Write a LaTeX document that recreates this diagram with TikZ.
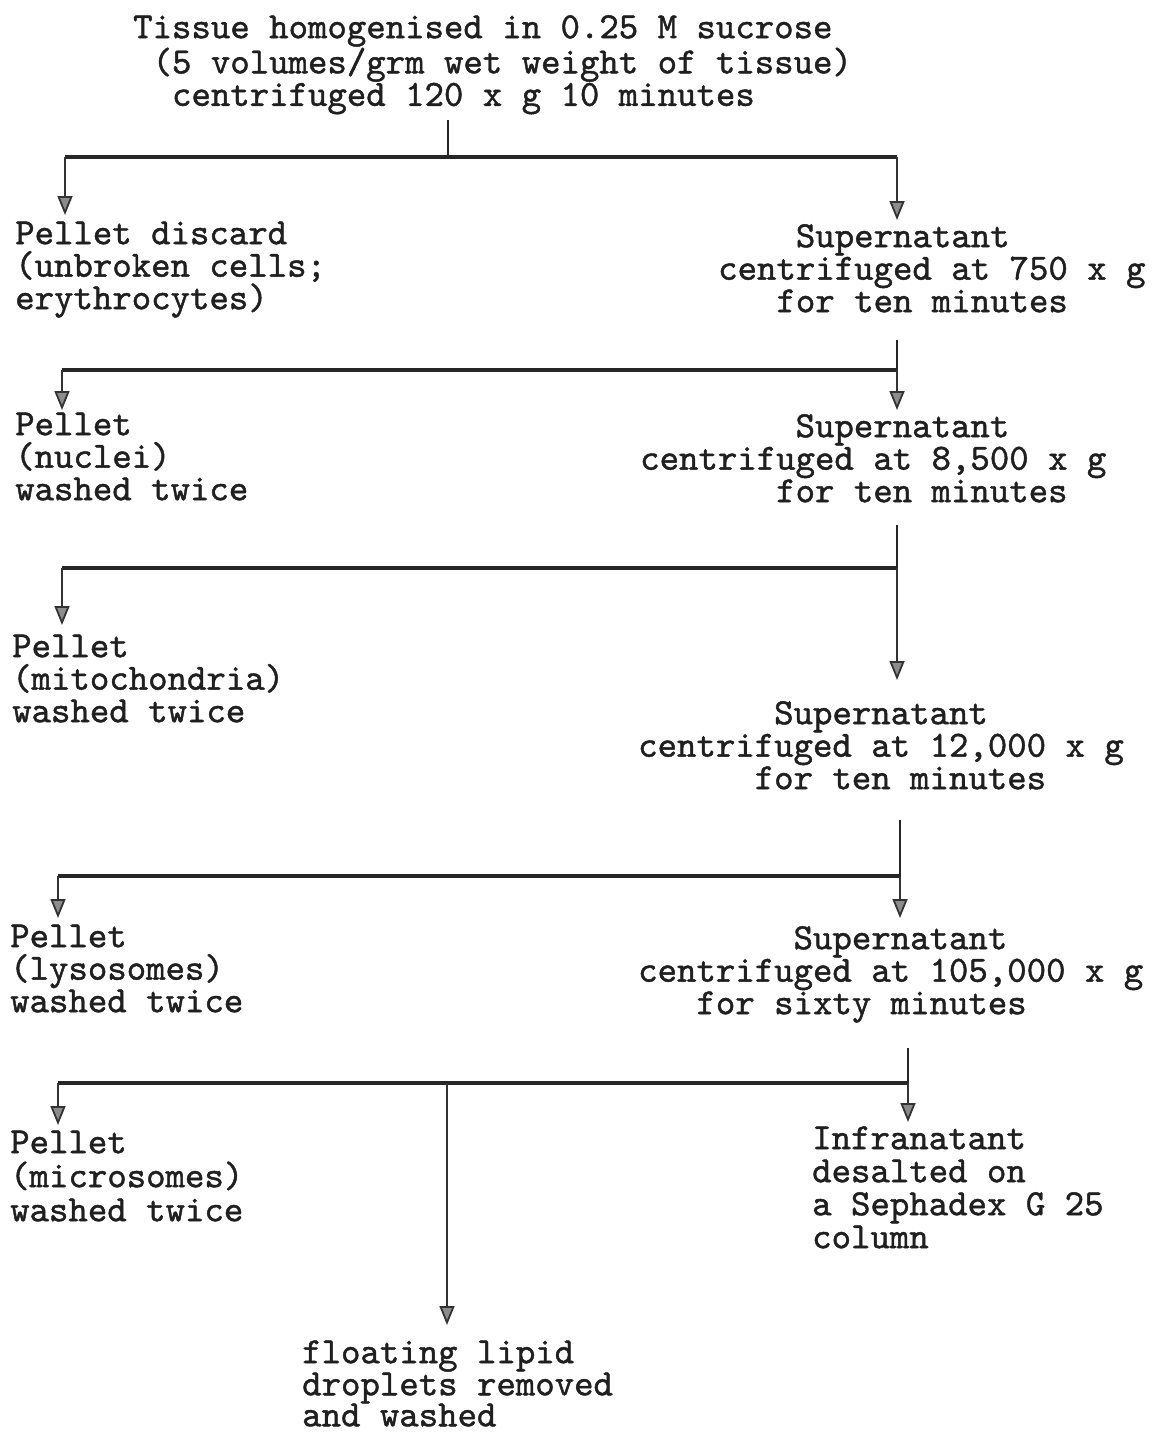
\documentclass[tikz,border=0pt]{standalone}
\usepackage{fontspec}
\newfontfamily\twfont{lmmono10-regular.otf}[FakeBold=1.2]
\usetikzlibrary{arrows.meta}
\begin{document}
\begin{tikzpicture}[x=1pt,y=-1pt,
  txt/.style={font=\twfont\fontsize{37}{32.5}\selectfont, inner sep=0pt, anchor=north west, align=left, text=black!88},
  bar/.style={line width=4pt, draw=black!85},
  stub/.style={line width=2pt, draw=black!85},
  arr/.style={line width=1.8pt, draw=black!80, -{Triangle[width=15pt,length=19pt,fill=black!45]}}]
\useasboundingbox (0,0) rectangle (1152,1432);
\newcommand{\fl}{\rule{0pt}{26pt}}
% texts
\node[txt] (title) at (133,12) {\fl Tissue homogenised in 0.25 M sucrose\\\ (5 volumes/grm wet weight of tissue)\\\ \ centrifuged 120 x g 10 minutes};
\node[txt] (p1) at (15,218) {\fl Pellet discard\\(unbroken cells;\\erythrocytes)};
\node[txt] (s1) at (718,221) {\fl\phantom{xxxx}Supernatant\\centrifuged at 750 x g\\\phantom{xxx}for ten minutes};
\node[txt] (p2) at (15,409) {\fl Pellet\\(nuclei)\\washed twice};
\node[txt] (s2) at (640,411) {\fl\phantom{xxxxxxxx}Supernatant\\centrifuged at 8,500 x g\\\phantom{xxxxxxx}for ten minutes};
\node[txt] (p3) at (12,631) {\fl Pellet\\(mitochondria)\\washed twice};
\node[txt] (s3) at (638,698) {\fl\phantom{xxxxxxx}Supernatant\\centrifuged at 12,000 x g\\\phantom{xxxxxx}for ten minutes};
\node[txt] (p4) at (10,921) {\fl Pellet\\(lysosomes)\\washed twice};
\node[txt] (s4) at (638,923) {\fl\phantom{xxxxxxxx}Supernatant\\centrifuged at 105,000 x g\\\phantom{xxx}for sixty minutes};
\node[txt, font=\twfont\fontsize{37}{34}\selectfont] (p5) at (10,1127) {\fl Pellet\\(microsomes)\\washed twice};
\node[txt, font=\twfont\fontsize{37}{33}\selectfont] (inf) at (812,1123) {\fl Infranatant\\desalted on\\a Sephadex G 25\\column};
\node[txt, font=\twfont\fontsize{37}{31}\selectfont] (lip) at (302,1337) {\fl floating lipid\\droplets removed\\and washed};
% junction coordinates
\coordinate (a0) at (448,120); \coordinate (a1) at (448,157);
\coordinate (aL) at (65,157);  \coordinate (aR) at (897,157);
\coordinate (aLt) at (65,215); \coordinate (aRt) at (897,220);
\coordinate (b0) at (897,340); \coordinate (b1) at (897,370);
\coordinate (bL) at (62,370);  \coordinate (bLt) at (62,410); \coordinate (bRt) at (897,410);
\coordinate (c0) at (897,525); \coordinate (c1) at (897,568);
\coordinate (cL) at (62,568);  \coordinate (cLt) at (62,625); \coordinate (cRt) at (897,680);
\coordinate (d0) at (900,820); \coordinate (d1) at (900,876);
\coordinate (dL) at (58,876);  \coordinate (dLt) at (58,918); \coordinate (dRt) at (900,918);
\coordinate (e0) at (908,1048); \coordinate (e1) at (908,1083);
\coordinate (eL) at (58,1083); \coordinate (eM) at (447,1083);
\coordinate (eLt) at (58,1125); \coordinate (eRt) at (908,1122); \coordinate (eMt) at (447,1325);
% row 1
\draw[stub] (a0) -- (a1);
\draw[bar] (aL) -- (aR);
\draw[arr] (aL) -- (aLt);
\draw[arr] (aR) -- (aRt);
% row 2
\draw[stub] (b0) -- (b1);
\draw[bar] (bL) -- (b1);
\draw[arr] (bL) -- (bLt);
\draw[arr] (b1) -- (bRt);
% row 3
\draw[stub] (c0) -- (c1);
\draw[bar] (cL) -- (c1);
\draw[arr] (cL) -- (cLt);
\draw[arr] (c1) -- (cRt);
% row 4
\draw[stub] (d0) -- (d1);
\draw[bar] (dL) -- (d1);
\draw[arr] (dL) -- (dLt);
\draw[arr] (d1) -- (dRt);
% row 5
\draw[stub] (e0) -- (e1);
\draw[bar] (eL) -- (e1);
\draw[arr] (eL) -- (eLt);
\draw[arr] (e1) -- (eRt);
\draw[arr] (eM) -- (eMt);
\end{tikzpicture}
\end{document}
